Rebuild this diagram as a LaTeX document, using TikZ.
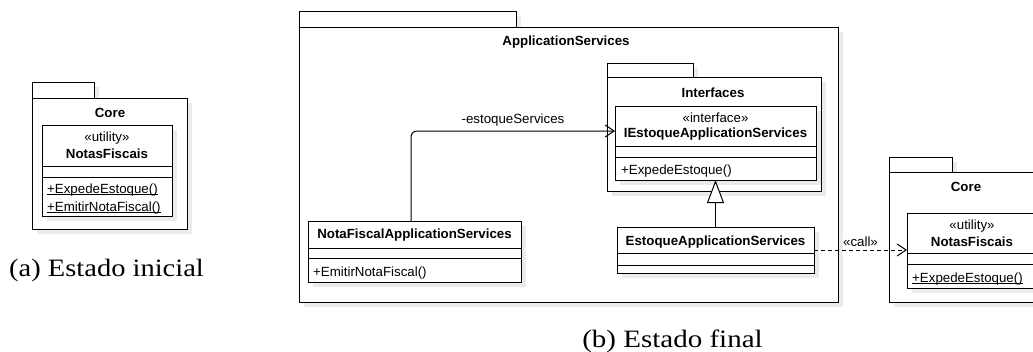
\documentclass[tikz,border=0pt]{standalone}
\usepackage{fontspec}
\usepackage{graphicx}
\usetikzlibrary{arrows.meta,shadows}
\newfontfamily\umlfont{Liberation Sans}
\newfontfamily\capfont{Liberation Serif}

% underline set close to the baseline (static members)
\newcommand{\staticul}[1]{\underline{\raisebox{0pt}[\height][0pt]{#1}}}

\tikzset{
  umlbox/.style={draw, fill=white, line width=1pt, inner sep=0pt, outer sep=0pt,
    anchor=north west,
    drop shadow={shadow xshift=5pt, shadow yshift=-5pt, opacity=1, fill=black!8, draw=none}},
  txt/.style={inner sep=0pt, font=\umlfont\fontsize{13.3}{15}\selectfont},
  bold/.style={txt, font=\umlfont\bfseries\fontsize{13.3}{15}\selectfont},
  member/.style={txt, anchor=base west},
  caption/.style={inner sep=0pt, anchor=base, font=\capfont\fontsize{25}{28}\selectfont},
  conn/.style={line width=1pt},
  barb/.style={-{Straight Barb[length=9pt, width=12pt, line width=1pt]}},
}
\newcommand{\pkgtab}[5]{% name, x, y, width, height
  \node[umlbox, minimum width=#4pt, minimum height=#5pt] (#1) at (#2,#3) {};}
\newcommand{\divider}[2]{% node, y
  \draw[line width=1pt] (#1.west |- 0,#2) -- (#1.east |- 0,#2);}

\begin{document}
\begin{tikzpicture}[x=1pt, y=-1pt]
  \useasboundingbox (0,0) rectangle (1033,351);
  \clip (0,0) rectangle (1033,351);

  % ---------- (a) initial state ----------
  \pkgtab{coreAtab}{32}{82}{62}{16}
  \pkgtab{coreA}{32}{98}{155}{131}
  \node[bold] (coreAlbl) at (110,113) {Core};
  \pkgtab{nfA}{42}{125}{130}{91}
  \divider{nfA}{166}
  \divider{nfA}{177}
  \node[txt] (nfAst) at (107,138) {«utility»};
  \node[bold] (nfAname) at (107,154) {NotasFiscais};
  \node[member] (nfAm1) at (47,193) {\staticul{+ExpedeEstoque()}};
  \node[member] (nfAm2) at (47,211) {\staticul{+EmitirNotaFiscal()}};
  \node[caption] (capA) at (106.5,276) {\scalebox{1.14}[1]{(a) Estado inicial}};

  % ---------- (b) final state ----------
  \pkgtab{appTab}{299}{11}{217}{16}
  \pkgtab{app}{299}{27}{539}{275}
  \node[bold] (appLbl) at (566,42) {ApplicationServices};

  \pkgtab{ifTab}{607}{63}{86}{14}
  \pkgtab{ifPkg}{607}{77}{214}{114}
  \node[bold] (ifLbl) at (713,93) {Interfaces};

  \pkgtab{iface}{615}{106}{201}{74}
  \divider{iface}{146}
  \divider{iface}{157}
  \node[txt] (ifaceSt) at (715.5,118) {«interface»};
  \node[bold] (ifaceName) at (715.5,134) {IEstoqueApplicationServices};
  \node[member] (ifaceM) at (621,174) {+ExpedeEstoque()};

  \pkgtab{estoque}{617}{227}{197}{46}
  \divider{estoque}{253}
  \divider{estoque}{265}
  \node[bold] (estoqueName) at (715.5,242) {EstoqueApplicationServices};

  \pkgtab{notafiscal}{308}{221}{213}{61}
  \divider{notafiscal}{248}
  \divider{notafiscal}{258}
  \node[bold] (nfName) at (414.5,235) {NotaFiscalApplicationServices};
  \node[member] (nfM) at (313,276) {+EmitirNotaFiscal()};

  \pkgtab{coreBtab}{889}{157}{63}{15}
  \pkgtab{coreB}{889}{172}{155}{130}
  \node[bold] (coreBlbl) at (966,187) {Core};
  \pkgtab{nfB}{907}{213}{130}{75}
  \divider{nfB}{253}
  \divider{nfB}{264}
  \node[txt] (nfBst) at (972,226) {«utility»};
  \node[bold] (nfBname) at (972,242) {NotasFiscais};
  \node[member] (nfBm1) at (912,282) {\staticul{+ExpedeEstoque()}};

  % association
  \draw[conn, barb, rounded corners=6pt]
    ([xshift=-3.5pt]notafiscal.north) |- ([yshift=12pt]iface.west)
    node[txt, pos=0.75, above=4pt] (assocLbl) {-estoqueServices};
  % realization
  \draw[conn, -{Triangle[open, length=23pt, width=17pt, line width=1pt, fill=white]}]
    (estoque.north) -- (iface.south);
  % dependency
  \draw[conn, barb, dashed, dash pattern=on 4pt off 3pt]
    (estoque.east) -- (nfB.west |- estoque.east)
    node[txt, midway, above=3pt] (callLbl) {«call»};

  \node[caption] (capB) at (672.5,347) {\scalebox{1.16}[1]{(b) Estado final}};
\end{tikzpicture}
\end{document}
